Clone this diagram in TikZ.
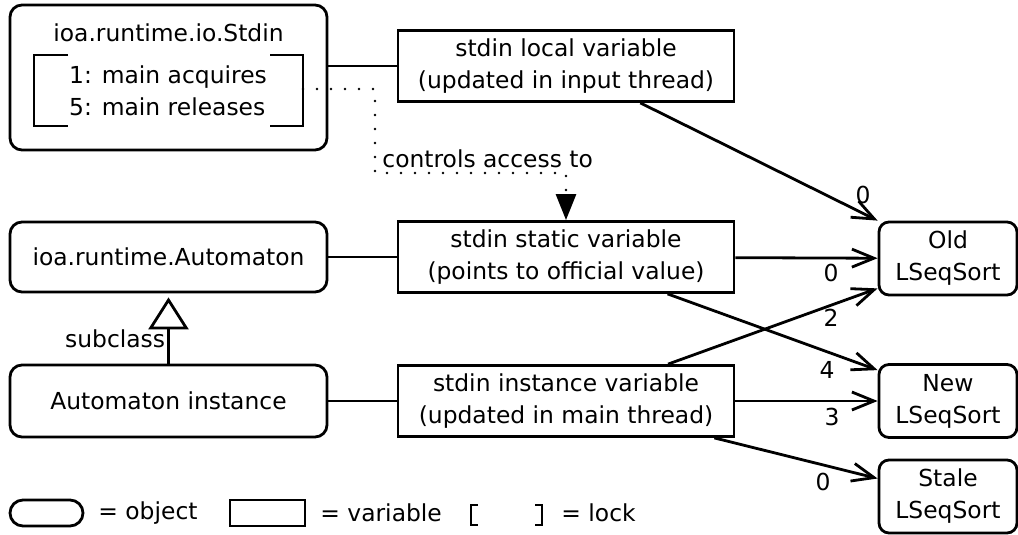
\documentclass[tikz,border=0pt]{standalone}
\usepackage{fontspec}
\setmainfont{DejaVu Sans}
\usetikzlibrary{arrows.meta}

\begin{document}
\begin{tikzpicture}[x=0.5pt, y=-0.5pt,
    font=\fontsize{11.7pt}{16pt}\selectfont,
    obj/.style={draw, line width=1.4pt, rounded corners=6pt, minimum width=158.5pt, align=center},
    var/.style={draw, line width=1.4pt, minimum width=168pt, minimum height=35.5pt, align=center},
    sort/.style={draw, line width=1.4pt, rounded corners=5pt, minimum width=69pt, minimum height=36.5pt, align=center},
    link/.style={line width=1.4pt},
    ptr/.style={line width=1.4pt, -{Straight Barb[length=11pt, width=9pt]}},
    ctrl/.style={line width=1.4pt, line cap=round, dash pattern=on 0pt off 7pt, -{Triangle[length=13pt, width=10pt]}},
    lockbr/.style={line width=1.4pt},
    lbl/.style={inner sep=0pt}]

    \useasboundingbox (0,0) rectangle (1018,535);

    \node[obj, minimum height=72.5pt] (stdin) at (168.5,77.5) {};
    \node (stdinname) at (168.5,33) {ioa.runtime.io.Stdin};
    \node[align=left] (lockbody) at (168,90.5) {1: main acquires\\5: main releases};
    \draw[lockbr] (68,55) -- (34,55) -- (34,126) -- (68,126);
    \draw[lockbr] (270,55) -- (303,55) -- (303,126) -- (270,126);
    \coordinate (lockR) at (303,89);

    \node[obj, minimum height=35pt] (automaton) at (168.5,257) {ioa.runtime.Automaton};
    \node[obj, minimum height=36pt] (autoinst) at (168.5,401) {Automaton instance};

    \node[var] (localvar) at (566,66) {stdin local variable\\(updated in input thread)};
    \node[var] (staticvar) at (566,257) {stdin static variable\\(points to official value)};
    \node[var] (instvar) at (566,401) {stdin instance variable\\(updated in main thread)};

    \node[sort] (old) at (948,258.5) {Old\\LSeqSort};
    \node[sort] (new) at (948,401) {New\\LSeqSort};
    \node[sort] (stale) at (948,496.5) {Stale\\LSeqSort};

    \draw[link] (localvar.west) -- (localvar.west -| stdin.east);
    \draw[link] (automaton) -- (staticvar);
    \draw[link] (autoinst) -- (instvar);
    \draw[link, -{Triangle[open, length=16pt, width=20pt]}, shorten >=2pt] (autoinst) -- node[lbl, pos=0.35, left=1pt] (subcl) {subclass} (automaton);

    \draw[ctrl] (lockR) -| (375,173) -| (staticvar.north);
    \node[lbl, anchor=south west] (ctrltxt) at (382,168) {controls access to};

    \draw[ptr] (localvar) -- (old.north west);
    \draw[ptr] (staticvar) -- (old);
    \draw[ptr] (instvar) -- ([yshift=4pt]old.south west);
    \draw[ptr] (staticvar) -- ([yshift=-3.5pt]new.north west);
    \draw[ptr] (instvar) -- (new);
    \draw[ptr] (instvar) -- ([yshift=9pt]stale.west);

    \node[lbl] (n1) at (863,195) {0};
    \node[lbl] (n2) at (831,273) {0};
    \node[lbl] (n3) at (831,318) {2};
    \node[lbl] (n4) at (827,370) {4};
    \node[lbl] (n5) at (832,417) {3};
    \node[lbl] (n6) at (823,482) {0};

    \node[draw, line width=1.4pt, rounded corners=6.5pt, minimum width=36.5pt, minimum height=13pt] (legobj) at (46.5,513) {};
    \node[lbl, anchor=west] (legobjtxt) at (98,513) {= object};
    \node[draw, line width=1.4pt, minimum width=37.5pt, minimum height=13pt] (legvar) at (267.5,513) {};
    \node[lbl, anchor=west] (legvartxt) at (320,513) {= variable};
    \draw[lockbr] (478,505) -- (471,505) -- (471,525) -- (478,525);
    \draw[lockbr] (535,505) -- (542,505) -- (542,525) -- (535,525);
    \node[lbl, anchor=west] (leglocktxt) at (561,513) {= lock};
\end{tikzpicture}
\end{document}
